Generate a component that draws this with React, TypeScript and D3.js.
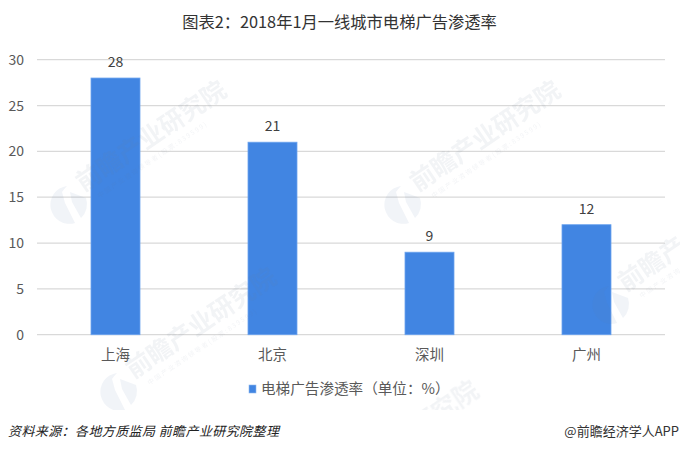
import * as d3 from 'd3';

const cities = ['上海', '北京', '深圳', '广州'];
const rates = [28, 21, 9, 12];
const yTicks = [0, 5, 10, 15, 20, 25, 30];
const seriesName = '电梯广告渗透率（单位：%）';
const titleText = '图表2：2018年1月一线城市电梯广告渗透率';
const sourceText = '资料来源：各地方质监局 前瞻产业研究院整理';
const brandText = '@前瞻经济学人APP';
const markBrand = '前瞻产业研究院';
const markSub = '中国产业咨询领导者(股票:839599)';
const markSpots = [[68, 205], [402, 205], [118, 392], [610, 305], [320, 505]];

const width = 680;
const height = 449;
const font = '"Noto Sans CJK SC", "Noto Sans", sans-serif';

export default function App() {
  const x = d3.scaleBand<string>().domain(cities).range([37, 665]).paddingInner(0.688).paddingOuter(0.344);
  const y = d3.scaleLinear().domain([0, 30]).range([334.7, 59.7]);

  return (
    <svg
      width={width}
      height={height}
      style={{ position: 'absolute', left: 0, top: 0, background: '#fff' }}
      fontFamily={font}
    >
      <defs>
        <clipPath id="mark-clip">
          <rect x={0} y={0} width={width} height={410} />
        </clipPath>
      </defs>

      <text x={339.5} y={27.5} textAnchor="middle" fontSize={16.3} fill="#333">{titleText}</text>

      {yTicks.map(t => (
        <g key={t}>
          <line x1={37} x2={665} y1={y(t)} y2={y(t)} stroke="#d9d9d9" strokeWidth={1.2} />
          <text x={24} y={y(t) + 5} textAnchor="end" fontSize={14} fill="#595959">{t}</text>
        </g>
      ))}

      {cities.map((c, i) => (
        <g key={c}>
          <rect
            x={x(c)}
            y={y(rates[i])}
            width={x.bandwidth()}
            height={y(0) - y(rates[i])}
            fill="#4185e2"
            stroke="#6ba3ee"
            strokeWidth={0.8}
          />
          <text x={x(c)! + x.bandwidth() / 2} y={y(rates[i]) - 11} textAnchor="middle" fontSize={14} fill="#404040">
            {rates[i]}
          </text>
          <text x={x(c)! + x.bandwidth() / 2} y={360} textAnchor="middle" fontSize={14.5} fill="#595959">{c}</text>
        </g>
      ))}

      <rect x={249} y={385} width={7} height={8} fill="#4185e2" stroke="#8fb8ee" strokeWidth={0.6} />
      <text x={261} y={394} fontSize={14.6} fill="#595959">{seriesName}</text>

      <text x={8} y={436} fontSize={13} fontStyle="italic" fill="#222" letterSpacing={0.4}>{sourceText}</text>
      <text x={679} y={436} textAnchor="end" fontSize={13} fill="#333">{brandText}</text>

      {/* watermark sits over everything, very faint */}
      <g clipPath="url(#mark-clip)" opacity={0.09}>
        {markSpots.map(([mx, my], i) => (
          <g key={i} transform={`translate(${mx},${my})`}>
            <path d="M-1,-19 A19,19 0 1 0 7,18 L-3,-2 L-6,-13 Q-4,-16 -1,-19 Z" fill="#5f7fb0" />
            <path d="M2,-13 L18,-7 A19,19 0 0 1 13,13 L4,-3 Z" fill="#5f7fb0" />
            <g transform="rotate(-34)">
              <text x={20} y={-2} fontSize={25} fontWeight={700} fill="#6f7f99">{markBrand}</text>
              <text x={30} y={12} fontSize={6.5} letterSpacing={1.6} fill="#6f7f99">{markSub}</text>
            </g>
          </g>
        ))}
      </g>
    </svg>
  );
}
